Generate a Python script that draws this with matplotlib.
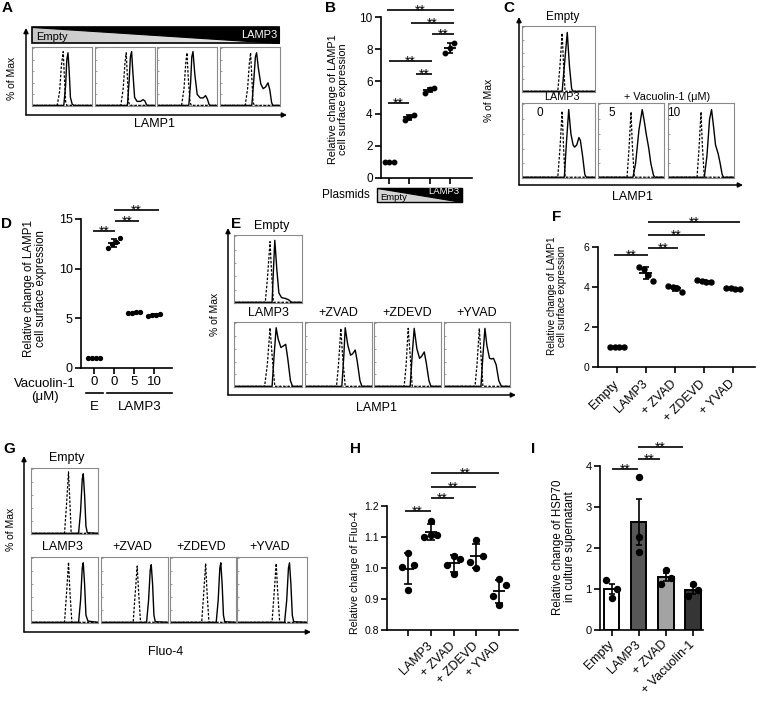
import numpy as np
import matplotlib
matplotlib.use('Agg')
import matplotlib.pyplot as plt
from matplotlib.patches import Polygon, Rectangle

plt.rcParams.update({
    'font.family': ['Liberation Sans', 'DejaVu Sans'],
    'axes.linewidth': 1.2,
    'xtick.major.width': 1.2,
    'ytick.major.width': 1.2,
    'xtick.major.size': 4,
    'ytick.major.size': 4,
    'xtick.major.pad': 2,
    'ytick.major.pad': 2,
})

# ---------------- data ----------------
# B: LAMP1 surface expression vs plasmid ratio
b_groups = [[0.98, 1.0, 1.02], [3.6, 3.8, 3.9], [5.3, 5.5, 5.6], [7.75, 8.05, 8.4]]
# D: vacuolin-1
d_groups = [[1.0, 1.0, 1.0, 1.0], [12.1, 12.5, 12.7, 13.1],
            [5.5, 5.55, 5.6, 5.6], [5.2, 5.3, 5.35, 5.4]]
d_ticks = ['0', '0', '5', '10']
# F: caspase inhibitors
f_groups = [[1.0, 1.0, 1.0, 1.0], [5.0, 4.9, 4.6, 4.3], [4.05, 4.0, 3.95, 3.75],
            [4.35, 4.3, 4.25, 4.25], [3.95, 3.93, 3.9, 3.88]]
f_labels = ['Empty', 'LAMP3', '+ ZVAD', '+ ZDEVD', '+ YVAD']
# H: Fluo-4
h_groups = [[1.047, 1.01, 1.004, 0.929], [1.153, 1.106, 1.10, 1.105],
            [1.04, 1.03, 1.01, 0.98], [1.09, 1.04, 1.02, 1.0],
            [0.965, 0.945, 0.91, 0.88]]
h_labels = ['', 'LAMP3', '+ ZVAD', '+ ZDEVD', '+ YVAD']
# I: HSP70 in supernatant
i_groups = [[1.22, 1.0, 0.78], [3.73, 2.27, 1.9], [1.47, 1.28, 1.12], [1.13, 0.97, 0.83]]
i_labels = ['Empty', 'LAMP3', '+ ZVAD', '+ Vacuolin-1']
i_colors = ['white', '#575757', '#a3a3a3', '#353535']

# histogram traces (x, % of max) per box: dashed = control, solid = LAMP1
A_DASHED = [
    [(0, 0.01), (0.42, 0.01), (0.46, 0.25), (0.49, 0.7), (0.52, 0.94), (0.54, 0.5), (0.56, 0.08), (0.58, 0.01), (1, 0.01)],
    [(0, 0.01), (0.43, 0.01), (0.47, 0.3), (0.50, 0.75), (0.52, 0.92), (0.54, 0.5), (0.56, 0.07), (0.58, 0.01), (1, 0.01)],
    [(0, 0.01), (0.41, 0.01), (0.45, 0.3), (0.48, 0.75), (0.50, 0.92), (0.52, 0.5), (0.55, 0.07), (0.57, 0.01), (1, 0.01)],
    [(0, 0.01), (0.42, 0.01), (0.46, 0.3), (0.49, 0.75), (0.51, 0.92), (0.53, 0.5), (0.55, 0.07), (0.57, 0.01), (1, 0.01)],
]
A_SOLID = [
    [(0, 0.01), (0.53, 0.01), (0.56, 0.35), (0.58, 0.8), (0.60, 0.92), (0.62, 0.6), (0.64, 0.15), (0.67, 0.03), (0.70, 0.01), (1, 0.01)],
    [(0, 0.01), (0.54, 0.01), (0.57, 0.45), (0.59, 0.85), (0.61, 0.94), (0.63, 0.6), (0.66, 0.15), (0.70, 0.08), (0.76, 0.08),
     (0.80, 0.11), (0.83, 0.09), (0.86, 0.02), (0.88, 0.01), (1, 0.01)],
    [(0, 0.01), (0.53, 0.01), (0.56, 0.4), (0.58, 0.85), (0.60, 0.94), (0.63, 0.55), (0.67, 0.2), (0.72, 0.14), (0.77, 0.14),
     (0.81, 0.18), (0.84, 0.12), (0.87, 0.02), (0.89, 0.01), (1, 0.01)],
    [(0, 0.01), (0.53, 0.01), (0.56, 0.4), (0.59, 0.85), (0.61, 0.92), (0.64, 0.65), (0.68, 0.38), (0.72, 0.3), (0.76, 0.33),
     (0.80, 0.4), (0.83, 0.28), (0.86, 0.06), (0.88, 0.01), (1, 0.01)],
]
C_DASHED = [
    [(0, 0.01), (0.49, 0.01), (0.52, 0.4), (0.55, 0.91), (0.57, 0.4), (0.59, 0.01), (1, 0.01)],
    [(0, 0.01), (0.49, 0.01), (0.52, 0.4), (0.55, 0.91), (0.57, 0.4), (0.59, 0.01), (1, 0.01)],
    [(0, 0.01), (0.44, 0.01), (0.47, 0.4), (0.50, 0.90), (0.52, 0.45), (0.55, 0.01), (1, 0.01)],
    [(0, 0.01), (0.44, 0.01), (0.47, 0.4), (0.50, 0.90), (0.52, 0.45), (0.55, 0.01), (1, 0.01)],
]
C_SOLID = [
    [(0, 0.01), (0.55, 0.01), (0.58, 0.4), (0.62, 0.92), (0.65, 0.4), (0.68, 0.05), (0.70, 0.01), (1, 0.01)],
    [(0, 0.01), (0.58, 0.01), (0.61, 0.5), (0.64, 0.93), (0.67, 0.6), (0.70, 0.45), (0.72, 0.42), (0.75, 0.45), (0.78, 0.55),
     (0.80, 0.51), (0.83, 0.3), (0.86, 0.05), (0.88, 0.01), (1, 0.01)],
    [(0, 0.01), (0.53, 0.01), (0.57, 0.2), (0.62, 0.65), (0.67, 0.93), (0.70, 0.78), (0.73, 0.6), (0.77, 0.4), (0.80, 0.2),
     (0.84, 0.04), (0.86, 0.01), (1, 0.01)],
    [(0, 0.01), (0.55, 0.01), (0.59, 0.3), (0.63, 0.8), (0.66, 0.93), (0.69, 0.7), (0.72, 0.45), (0.76, 0.33), (0.79, 0.2),
     (0.82, 0.05), (0.84, 0.01), (1, 0.01)],
]
E_DASHED = [
    [(0, 0.01), (0.46, 0.01), (0.49, 0.35), (0.53, 0.92), (0.55, 0.5), (0.58, 0.01), (1, 0.01)],
    [(0, 0.01), (0.45, 0.01), (0.49, 0.35), (0.53, 0.93), (0.56, 0.5), (0.60, 0.01), (1, 0.01)],
    [(0, 0.01), (0.47, 0.01), (0.50, 0.35), (0.535, 0.92), (0.56, 0.5), (0.60, 0.01), (1, 0.01)],
    [(0, 0.01), (0.45, 0.01), (0.48, 0.35), (0.51, 0.92), (0.54, 0.5), (0.57, 0.01), (1, 0.01)],
    [(0, 0.01), (0.47, 0.01), (0.50, 0.35), (0.535, 0.92), (0.56, 0.5), (0.59, 0.01), (1, 0.01)],
]
E_SOLID = [
    [(0, 0.01), (0.56, 0.01), (0.58, 0.5), (0.60, 0.94), (0.63, 0.5), (0.66, 0.15), (0.70, 0.08), (0.75, 0.07), (0.80, 0.05),
     (0.85, 0.01), (1, 0.01)],
    [(0, 0.01), (0.56, 0.01), (0.59, 0.5), (0.62, 0.93), (0.65, 0.75), (0.69, 0.62), (0.72, 0.64), (0.76, 0.67), (0.79, 0.45),
     (0.83, 0.1), (0.86, 0.01), (1, 0.01)],
    [(0, 0.01), (0.55, 0.01), (0.58, 0.5), (0.60, 0.93), (0.64, 0.65), (0.68, 0.5), (0.71, 0.52), (0.75, 0.58), (0.78, 0.4),
     (0.82, 0.1), (0.85, 0.01), (1, 0.01)],
    [(0, 0.01), (0.54, 0.01), (0.57, 0.5), (0.60, 0.92), (0.64, 0.6), (0.68, 0.45), (0.71, 0.48), (0.75, 0.55), (0.78, 0.38),
     (0.82, 0.1), (0.85, 0.01), (1, 0.01)],
    [(0, 0.01), (0.56, 0.01), (0.59, 0.5), (0.62, 0.92), (0.65, 0.65), (0.69, 0.45), (0.72, 0.44), (0.75, 0.45), (0.79, 0.35),
     (0.83, 0.1), (0.87, 0.01), (1, 0.01)],
]
G_DASHED = [
    [(0, 0.01), (0.50, 0.01), (0.53, 0.45), (0.56, 0.96), (0.58, 0.5), (0.60, 0.01), (1, 0.01)],
    [(0, 0.01), (0.50, 0.01), (0.53, 0.45), (0.56, 0.94), (0.58, 0.5), (0.61, 0.01), (1, 0.01)],
    [(0, 0.01), (0.48, 0.01), (0.51, 0.45), (0.54, 0.88), (0.56, 0.5), (0.59, 0.01), (1, 0.01)],
    [(0, 0.01), (0.48, 0.01), (0.51, 0.45), (0.54, 0.92), (0.56, 0.5), (0.59, 0.01), (1, 0.01)],
    [(0, 0.01), (0.50, 0.01), (0.53, 0.45), (0.56, 0.92), (0.58, 0.5), (0.61, 0.01), (1, 0.01)],
]
G_SOLID = [
    [(0, 0.01), (0.71, 0.01), (0.74, 0.35), (0.765, 0.85), (0.78, 0.93), (0.80, 0.6), (0.82, 0.12), (0.84, 0.02), (1, 0.01)],
    [(0, 0.01), (0.71, 0.01), (0.74, 0.35), (0.765, 0.85), (0.78, 0.93), (0.80, 0.6), (0.82, 0.12), (0.85, 0.03), (0.92, 0.02), (1, 0.01)],
    [(0, 0.01), (0.68, 0.01), (0.71, 0.35), (0.735, 0.82), (0.75, 0.90), (0.77, 0.6), (0.79, 0.12), (0.81, 0.02), (1, 0.01)],
    [(0, 0.01), (0.70, 0.01), (0.73, 0.35), (0.755, 0.85), (0.77, 0.93), (0.79, 0.6), (0.81, 0.12), (0.83, 0.02), (1, 0.01)],
    [(0, 0.01), (0.68, 0.01), (0.71, 0.35), (0.735, 0.85), (0.75, 0.93), (0.77, 0.6), (0.79, 0.12), (0.81, 0.02), (1, 0.01)],
]

# ---------------- layout helpers (pixel coordinates, top-left origin) ----------------
W, H = 765, 707
fig = plt.figure(figsize=(W / 100, H / 100), dpi=100)

ov = fig.add_axes([0, 0, 1, 1], zorder=10)
ov.set_xlim(0, W)
ov.set_ylim(H, 0)
ov.axis('off')
ov.patch.set_alpha(0)


def px_axes(x0, y0, x1, y1):
    return fig.add_axes([x0 / W, 1 - y1 / H, (x1 - x0) / W, (y1 - y0) / H])


def arrow(x0, y0, x1, y1):
    ov.annotate('', xy=(x1, y1), xytext=(x0, y0),
                arrowprops=dict(arrowstyle='-|>', lw=1.1, color='black',
                                mutation_scale=7, shrinkA=0, shrinkB=0))


def histo(box, dashed, solid):
    ax = px_axes(*box)
    x, y = zip(*dashed)
    ax.plot(x, y, color='black', lw=0.9, ls=(0, (2.0, 1.3)))
    x, y = zip(*solid)
    ax.plot(x, y, color='black', lw=1.0)
    ax.set_xlim(0, 1)
    ax.set_ylim(0, 1.02)
    for s in ax.spines.values():
        s.set_color('#8a8a8a')
        s.set_linewidth(0.8)
    ax.set_xticks(np.linspace(0, 1, 26))
    ax.set_yticks(np.linspace(0, 1, 6))
    ax.tick_params(direction='in', length=1.5, width=0.5, color='#777777',
                   labelbottom=False, labelleft=False)
    return ax


def letter(x, y, s):
    ov.text(x, y, s, fontsize=11, fontweight='bold', ha='left', va='center')


def dot_axes(box, ylim, xlim, yticks, yfs):
    ax = px_axes(*box)
    ax.set_ylim(*ylim)
    ax.set_xlim(*xlim)
    ax.set_yticks(yticks)
    ax.spines['top'].set_visible(False)
    ax.spines['right'].set_visible(False)
    ax.tick_params(labelsize=yfs)
    return ax


def scatter_sd(ax, groups, offs, ms, half, cap):
    for i, vals in enumerate(groups):
        x = i + 1
        v = np.array(vals)
        m, sd = v.mean(), v.std(ddof=1)
        ax.plot(x + np.array(offs[:len(v)]), v, 'o', color='black', ms=ms,
                zorder=3, clip_on=False)
        ax.hlines(m, x - half, x + half, color='black', lw=1.3, zorder=4)
        ax.errorbar(x, m, yerr=sd, fmt='none', ecolor='black', elinewidth=1.2,
                    capsize=cap, capthick=1.2, zorder=4)


def sig(ax, bars, fs=10):
    for x0, x1, y in bars:
        ax.plot([x0, x1], [y, y], color='black', lw=1.2, clip_on=False,
                solid_capstyle='butt')
        ax.annotate('**', xy=((x0 + x1) / 2, y), xytext=(0, -3.4),
                    textcoords='offset points', ha='center', va='baseline',
                    fontsize=fs, annotation_clip=False)


def rot_labels(ax, labels, fs, pad):
    ax.set_xticks(range(1, len(labels) + 1))
    ax.set_xticklabels(labels, rotation=45, ha='right', va='center',
                       rotation_mode='anchor', fontsize=fs)
    ax.tick_params(axis='x', pad=pad)


def ylab(x, y, s, fs):
    ov.text(x, y, s, rotation=90, ha='center', va='center', fontsize=fs,
            multialignment='center', linespacing=1.05)


def gradient_box(x0, y0, x1, y1, c0, c1):
    grad = np.linspace(c0, c1, 200).reshape(1, -1)
    tri = Polygon([(x0, y0), (x0, y1), (x1, y1)], closed=True,
                  transform=ov.transData, facecolor='none', edgecolor='none')
    ov.add_patch(tri)
    im = ov.imshow(grad, cmap='gray', vmin=0, vmax=1, extent=(x0, x1, y1, y0),
                   aspect='auto', interpolation='bilinear')
    im.set_clip_path(tri)
    ov.add_patch(Polygon([(x0, y0), (x1, y0), (x1, y1)], closed=True,
                         facecolor='black', edgecolor='black', lw=0.8))
    ov.add_patch(Rectangle((x0, y0), x1 - x0, y1 - y0, facecolor='none',
                           edgecolor='black', lw=1.2))
    ov.set_xlim(0, W)
    ov.set_ylim(H, 0)


# ---------------- A ----------------
letter(2, 8, 'A')
gradient_box(32, 27, 279, 43, 0.78, 0.93)
ov.text(36, 37, 'Empty', fontsize=8, ha='left', va='center')
ov.text(277, 35, 'LAMP3', fontsize=8, ha='right', va='center', color='white')
for k, (x0, x1) in enumerate([(32, 92), (95, 155), (157, 217), (220, 280)]):
    histo((x0, 47, x1, 106), A_DASHED[k], A_SOLID[k])
arrow(26, 115, 26, 28)
arrow(26, 115, 287, 115)
ov.text(12, 78, '% of Max', rotation=90, fontsize=7.5, ha='center', va='center')
ov.text(155, 124, 'LAMP1', fontsize=9, ha='center', va='center')

# ---------------- B ----------------
letter(325, 8, 'B')
axb = dot_axes((381, 17, 472, 178), (0, 10), (0.6, 5.1), range(0, 11, 2), 8.5)
axb.set_xticks(range(1, 5))
axb.set_xticklabels([])
scatter_sd(axb, b_groups, [-0.22, 0.0, 0.22], 3.2, 0.3, 2.5)
sig(axb, [(0.9, 4.2, 10.43), (2.08, 4.2, 9.63), (3.12, 4.2, 8.94),
          (1.0, 3.12, 7.27), (2.33, 3.12, 6.46), (0.95, 1.98, 4.66)])
ylab(338, 99, 'Relative change of LAMP1\ncell surface expression', 7.8)
ov.text(346, 195, 'Plasmids', fontsize=8.5, ha='center', va='center')
gb = (377, 188, 462, 202)
ov.add_patch(Polygon([(gb[0], gb[1]), (gb[0], gb[3]), (gb[2], gb[3])], closed=True,
                     facecolor='#d4d4d4', edgecolor='none'))
ov.add_patch(Polygon([(gb[0], gb[1]), (gb[2], gb[1]), (gb[2], gb[3])], closed=True,
                     facecolor='black', edgecolor='black', lw=0.8))
ov.add_patch(Rectangle((gb[0], gb[1]), gb[2] - gb[0], gb[3] - gb[1],
                       facecolor='none', edgecolor='black', lw=1.0))
ov.text(380, 198, 'Empty', fontsize=6.8, ha='left', va='center')
ov.text(459, 192, 'LAMP3', fontsize=6.8, ha='right', va='center', color='white')

# ---------------- C ----------------
letter(503, 8, 'C')
histo((522, 26, 595, 92), C_DASHED[0], C_SOLID[0])
ov.text(563, 17, 'Empty', fontsize=8.5, ha='center', va='center')
for k, (x0, x1) in enumerate([(522, 595), (598, 664), (668, 734)]):
    histo((x0, 103, x1, 178), C_DASHED[k + 1], C_SOLID[k + 1])
ov.text(562, 97, 'LAMP3', fontsize=7.8, ha='center', va='center')
ov.text(667, 97, '+ Vacuolin-1 (μM)', fontsize=7.8, ha='center', va='center')
for x, s in [(540, '0'), (612, '5'), (674, '10')]:
    ov.text(x, 113, s, fontsize=8.5, ha='center', va='center')
arrow(519, 185, 519, 17)
arrow(519, 185, 743, 185)
ov.text(489, 100, '% of Max', rotation=90, fontsize=7.5, ha='center', va='center')
ov.text(633, 197, 'LAMP1', fontsize=9, ha='center', va='center')

# ---------------- D ----------------
letter(1, 224, 'D')
axd = dot_axes((81, 219, 172, 368), (0, 15), (0.35, 4.9), [0, 5, 10, 15], 9)
axd.set_xticks(range(1, 5))
axd.set_xticklabels(d_ticks, fontsize=9.5)
scatter_sd(axd, d_groups, [-0.3, -0.1, 0.1, 0.3], 2.8, 0.3, 2.5)
sig(axd, [(0.95, 2.05, 13.8), (2.05, 3.25, 14.8), (2.0, 4.25, 15.9)])
ylab(35, 289, 'Relative change of LAMP1\ncell surface expression', 8.3)
ov.text(45, 384, 'Vacuolin-1', fontsize=9.5, ha='center', va='center')
ov.text(45, 397, '(μM)', fontsize=9.5, ha='center', va='center')
ov.plot([86, 103], [393, 393], color='black', lw=1.2)
ov.plot([107, 172], [393, 393], color='black', lw=1.2)
ov.text(94, 407, 'E', fontsize=9.5, ha='center', va='center')
ov.text(140, 407, 'LAMP3', fontsize=9.5, ha='center', va='center')

# ---------------- E ----------------
letter(231, 224, 'E')
histo((234, 235, 302, 303), E_DASHED[0], E_SOLID[0])
ov.text(272, 226, 'Empty', fontsize=9, ha='center', va='center')
e_titles = ['LAMP3', '+ZVAD', '+ZDEVD', '+YVAD']
for k, (x0, x1) in enumerate([(234, 302), (305, 372), (374, 441), (444, 510)]):
    histo((x0, 322, x1, 387), E_DASHED[k + 1], E_SOLID[k + 1])
    ov.text((x0 + x1) / 2, 313, e_titles[k], fontsize=9, ha='center', va='center')
arrow(228, 395, 228, 228)
arrow(228, 395, 516, 395)
ov.text(215, 314, '% of Max', rotation=90, fontsize=7.5, ha='center', va='center')
ov.text(377, 408, 'LAMP1', fontsize=9, ha='center', va='center')

# ---------------- F ----------------
letter(552, 217, 'F')
axf = dot_axes((598, 247, 755, 367), (0, 6), (0.35, 5.76), [0, 2, 4, 6], 7.5)
rot_labels(axf, f_labels, 9, 7)
scatter_sd(axf, f_groups, [-0.25, -0.08, 0.08, 0.25], 3.6, 0.22, 2.5)
sig(axf, [(0.9, 2.07, 5.6), (2.07, 3.1, 5.95), (2.07, 4.03, 6.6), (2.07, 5.24, 7.25)])
ylab(557, 296, 'Relative change of LAMP1\ncell surface expression', 7.2)

# ---------------- G ----------------
letter(3, 449, 'G')
histo((31, 468, 98, 534), G_DASHED[0], G_SOLID[0])
ov.text(67, 458, 'Empty', fontsize=9, ha='center', va='center')
for k, (x0, x1) in enumerate([(31, 98), (101, 168), (170, 236), (237, 307)]):
    histo((x0, 557, x1, 623), G_DASHED[k + 1], G_SOLID[k + 1])
    ov.text((x0 + x1) / 2 - 2, 547, e_titles[k], fontsize=9, ha='center', va='center')
arrow(24, 632, 24, 456)
arrow(24, 632, 311, 632)
ov.text(11, 529, '% of Max', rotation=90, fontsize=7.5, ha='center', va='center')
ov.text(166, 652, 'Fluo-4', fontsize=9, ha='center', va='center')

# ---------------- H ----------------
letter(350, 449, 'H')
axh = dot_axes((387, 506, 518, 630), (0.8, 1.2), (0.08, 5.82),
               [0.8, 0.9, 1.0, 1.1, 1.2], 7.5)
axh.set_yticklabels(['0.8', '0.9', '1.0', '1.1', '1.2'])
rot_labels(axh, h_labels, 9, 6)
scatter_sd(axh, h_groups, [0.0, 0.28, -0.28, 0.0], 4.3, 0.27, 3)
sig(axh, [(0.85, 2.0, 1.185), (2.0, 3.02, 1.225), (2.0, 4.0, 1.262), (2.0, 5.0, 1.305)])
ylab(355, 573, 'Relative change of Fluo-4', 7.7)

# ---------------- I ----------------
letter(531, 449, 'I')
axi = dot_axes((600, 466, 703, 630), (0, 4), (0.56, 4.37), [0, 1, 2, 3, 4], 8)
rot_labels(axi, i_labels, 9, 5)
i_offs = [[-0.2, 0.2, 0.0], [0.0, 0.0, 0.0], [0.0, 0.2, -0.2], [0.0, 0.2, -0.2]]
for k, vals in enumerate(i_groups):
    v = np.array(vals)
    m, sem = v.mean(), v.std(ddof=1) / np.sqrt(len(v))
    axi.bar(k + 1, m, width=0.56, color=i_colors[k], edgecolor='black', lw=1.4, zorder=2)
    axi.errorbar(k + 1, m, yerr=sem, fmt='none', ecolor='black', elinewidth=1.2,
                 capsize=2.5, capthick=1.2, zorder=3)
    axi.plot(k + 1 + np.array(i_offs[k]), v, 'o', color='black', ms=4.3, zorder=4)
sig(axi, [(1.0, 1.96, 3.93), (1.96, 2.78, 4.17), (1.96, 3.63, 4.46)])
ylab(564, 547, 'Relative change of HSP70\nin culture supernatant', 8.3)

fig.savefig('out.png', dpi=100)
